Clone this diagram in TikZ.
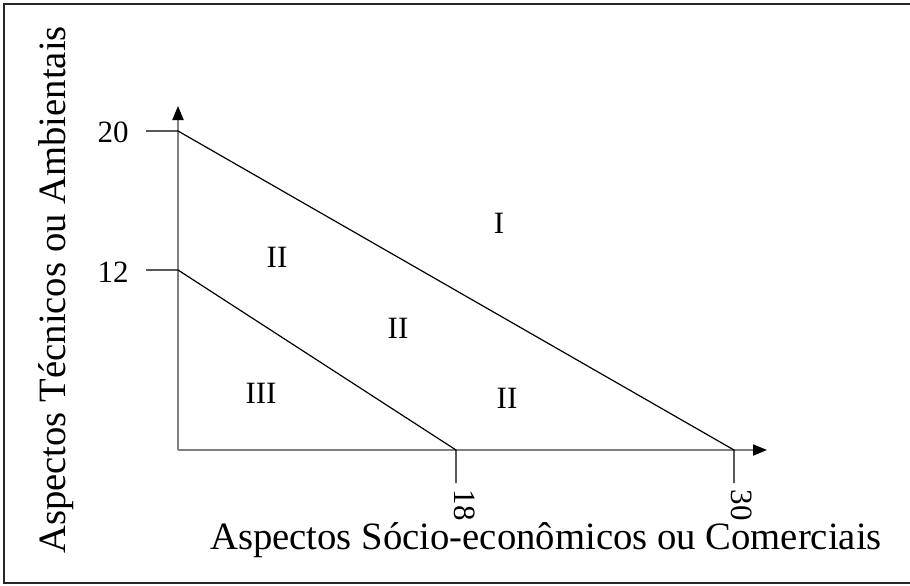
\documentclass[tikz,border=0pt]{standalone}
\usepackage{fontspec}
\setmainfont{Liberation Serif}
\usetikzlibrary{arrows.meta}
\begin{document}
\begin{tikzpicture}[x=1pt,y=-1pt,
  axisline/.style={draw=black!50, line width=2pt, -{Triangle[length=14pt,width=11pt,color=black]}},
  fineline/.style={draw=black, line width=1.2pt},
  num/.style={font=\fontsize{31}{36}\selectfont, inner sep=0pt},
  region/.style={font=\fontsize{31}{36}\selectfont, inner sep=0pt},
  axlabel/.style={font=\fontsize{38.7}{46}\selectfont, inner sep=0pt}]
\useasboundingbox (0,0) rectangle (910,586);
\draw[line width=2pt, draw=black!85] (4,584) -- (4,4) -- (912,4);
\draw[line width=2pt, draw=black!85] (4,583) -- (912,583);
% points
\coordinate (O) at (178,450);
\coordinate (ytop) at (178,106);
\coordinate (xend) at (767,450);
\coordinate (y20) at (178,131);
\coordinate (y12) at (178,270);
\coordinate (t20) at (146,131);
\coordinate (t12) at (146,270);
\coordinate (x18) at (456,450);
\coordinate (x30) at (734,450);
\coordinate (b18) at (456,483);
\coordinate (b30) at (734,483);
% axes
\draw[axisline] (O) -- (ytop);
\draw[axisline] (O) -- (xend);
% ticks and lines
\draw[fineline] (t20) -- (y20) -- (x30) -- (b30);
\draw[fineline] (t12) -- (y12) -- (x18) -- (b18);
% tick labels
\node[num] (n20) at (113,132) {20};
\node[num] (n12) at (113,272) {12};
\node[num, rotate=-90, anchor=north] (n18) at (475,505) {18};
\node[num, rotate=-90, anchor=north] (n30) at (752,505) {30};
% regions
\node[region] (rI) at (499,223) {I};
\node[region] (rII1) at (277,257) {II};
\node[region] (rII2) at (398,328) {II};
\node[region] (rIII) at (261,393) {III};
\node[region] (rII3) at (507,398) {II};
% axis labels
\node[axlabel, anchor=base] (xl) at (546,549) {Aspectos Sócio-econômicos ou Comerciais};
\node[axlabel, rotate=90, anchor=base] (yl) at (65,290) {Aspectos Técnicos ou Ambientais};
\end{tikzpicture}
\end{document}
